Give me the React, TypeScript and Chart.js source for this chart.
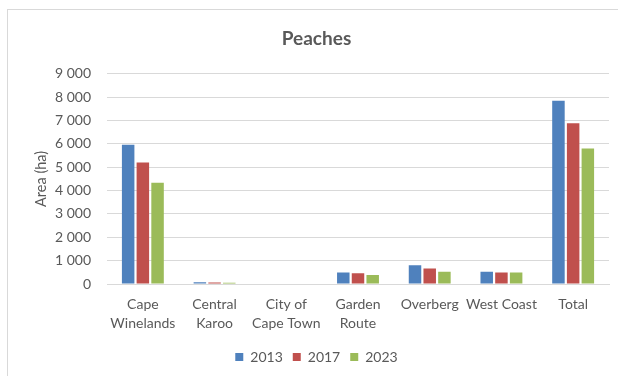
import React, { useEffect, useRef } from "react";
import { Chart, registerables } from "chart.js";

Chart.register(...registerables);

const categories: (string | string[])[] = [
  ["Cape", "Winelands"],
  ["Central", "Karoo"],
  ["City of", "Cape Town"],
  ["Garden", "Route"],
  "Overberg",
  "West Coast",
  "Total",
];
const seriesNames = ["2013", "2017", "2023"];
const values2013 = [5960, 70, 0, 490, 800, 520, 7850];
const values2017 = [5200, 60, 0, 460, 660, 490, 6880];
const values2023 = [4340, 55, 0, 390, 520, 490, 5800];
const colors = ["#4F81BD", "#C0504D", "#9BBB59"];
const yMin = 0;
const yMax = 9000;
const yStep = 1000;

const FONT = "Lato, 'Open Sans', sans-serif";
const TEXT = "#595959";
const GRID = "#d9d9d9";

function fmt(v: number): string {
  const s = Math.round(v).toString();
  return s.replace(/\B(?=(\d{3})+(?!\d))/g, " ");
}

export default function App() {
  const ref = useRef<HTMLCanvasElement | null>(null);
  useEffect(() => {
    if (!ref.current) return;
    const chart = new Chart(ref.current, {
      type: "bar",
      data: {
        labels: categories,
        datasets: [values2013, values2017, values2023].map((d, i) => ({
          label: seriesNames[i],
          data: d,
          backgroundColor: colors[i],
          borderWidth: 0,
          categoryPercentage: 0.615,
          barPercentage: 0.85,
        })),
      },
      options: {
        responsive: false,
        animation: false,
        layout: { padding: { top: 0, left: 24, right: 9, bottom: 2 } },
        plugins: {
          tooltip: { enabled: false },
          title: {
            display: true,
            text: "Peaches",
            color: TEXT,
            font: { family: FONT, size: 19, weight: "bold" },
            padding: { top: 27, bottom: 24 },
          },
          legend: {
            position: "bottom",
            labels: {
              boxWidth: 8,
              boxHeight: 8,
              color: TEXT,
              font: { family: FONT, size: 14 },
              padding: 10,
            },
          },
        },
        scales: {
          x: {
            grid: { display: false, drawTicks: false },
            border: { display: true, color: GRID },
            ticks: {
              color: TEXT,
              font: { family: FONT, size: 14, lineHeight: 1.35 },
              padding: 11,
              maxRotation: 0,
              autoSkip: false,
            },
            afterFit: (s: any) => {
              s.height = 56;
            },
          },
          y: {
            min: yMin,
            max: yMax,
            grid: { color: GRID, drawTicks: false, lineWidth: 1 },
            border: { display: false },
            ticks: {
              stepSize: yStep,
              color: TEXT,
              font: { family: FONT, size: 14 },
              padding: 16,
              callback: (v: any) => fmt(Number(v)),
            },
            title: {
              display: true,
              text: "Area (ha)",
              color: TEXT,
              font: { family: FONT, size: 14.5 },
              padding: { top: 9, bottom: 0 },
            },
            afterFit: (s: any) => {
              s.width = 83;
            },
          },
        },
      },
    } as any);
    return () => chart.destroy();
  }, []);
  return (
    <div style={{ position: "fixed", left: 0, top: 0, width: 618, height: 376, background: "#fff" }}>
      <div
        style={{
          position: "absolute",
          left: 7,
          top: 9,
          width: 612,
          height: 368,
          border: "1px solid #d9d9d9",
          boxSizing: "border-box",
        }}
      />
      <canvas ref={ref} width={618} height={376} style={{ position: "absolute", left: 0, top: 0 }} />
    </div>
  );
}
